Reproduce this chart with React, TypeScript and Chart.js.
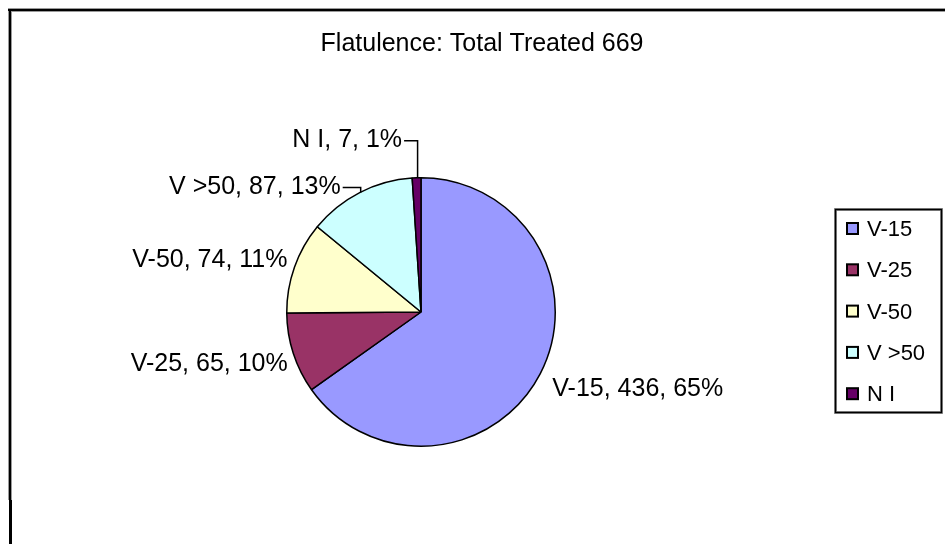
import React, { useEffect, useRef } from 'react';
import { Chart, registerables } from 'chart.js';

Chart.register(...registerables);

const titleText = 'Flatulence: Total Treated 669';
const categories = ['V-15', 'V-25', 'V-50', 'V >50', 'N I'];
const counts = [436, 65, 74, 87, 7];
const colors = ['#9999FF', '#993366', '#FFFFCC', '#CCFFFF', '#660066'];

const FONT = '"Liberation Sans", Arial, sans-serif';

// label placement relative to slice edge point (style only)
const labelPlacement = [
  { dx: 12, dy: 13, align: 'left', leader: false },
  { dx: -5.5, dy: 8.6, align: 'right', leader: false },
  { dx: -7, dy: -9, align: 'right', leader: false },
  { dx: -19, dy: -8, align: 'right', leader: true },
  { dx: -14.5, dy: -40, align: 'right', leader: true },
];

const framePlugin = {
  id: 'frame',
  beforeDraw(chart: any) {
    const ctx = chart.ctx;
    ctx.save();
    ctx.fillStyle = '#fff';
    ctx.fillRect(0, 0, chart.width, chart.height);
    // outer chart frame (top + left)
    ctx.fillStyle = '#9a9a9a';
    ctx.fillRect(8, 8, chart.width, 4);
    ctx.fillRect(8, 8, 4, 492);
    ctx.fillStyle = '#000';
    ctx.fillRect(8, 9, chart.width, 2);
    ctx.fillRect(9, 9, 2, 491);
    ctx.fillRect(9, 500, 3, chart.height - 500);
    // title
    ctx.fillStyle = '#000';
    ctx.font = `25px ${FONT}`;
    ctx.textAlign = 'center';
    ctx.textBaseline = 'alphabetic';
    ctx.fillText(titleText, 482, 51);
    ctx.restore();
  },
};

const labelsPlugin = {
  id: 'sliceLabels',
  afterDatasetsDraw(chart: any) {
    const ctx = chart.ctx;
    const meta = chart.getDatasetMeta(0);
    const data = chart.data.datasets[0].data as number[];
    const total = data.reduce((a, b) => a + b, 0);
    ctx.save();
    ctx.font = `25px ${FONT}`;
    ctx.fillStyle = '#000';
    ctx.strokeStyle = '#000';
    ctx.lineWidth = 1.5;
    ctx.textBaseline = 'alphabetic';
    meta.data.forEach((arc: any, i: number) => {
      const { x, y, startAngle, endAngle, outerRadius } = arc.getProps(
        ['x', 'y', 'startAngle', 'endAngle', 'outerRadius'],
        true
      );
      const mid = (startAngle + endAngle) / 2;
      const ex = x + Math.cos(mid) * outerRadius;
      const ey = y + Math.sin(mid) * outerRadius;
      const p = labelPlacement[i];
      const tx = ex + p.dx;
      const ty = ey + p.dy;
      const pct = Math.round((data[i] / total) * 100);
      const text = `${chart.data.labels[i]}, ${data[i]}, ${pct}%`;
      ctx.textAlign = p.align;
      ctx.fillText(text, tx, ty + 9);
      if (p.leader) {
        const w = ctx.measureText(text).width;
        const right = p.align === 'right' ? tx : tx + w;
        ctx.beginPath();
        ctx.moveTo(right + 2, ty + 3);
        ctx.lineTo(ex + 1, ty + 3);
        ctx.lineTo(ex + 1, ey);
        ctx.stroke();
      }
    });
    ctx.restore();
  },
};

const legendPlugin = {
  id: 'boxLegend',
  afterDraw(chart: any) {
    const ctx = chart.ctx;
    const labels = chart.data.labels as string[];
    const bg = chart.data.datasets[0].backgroundColor as string[];
    ctx.save();
    // legend frame
    ctx.strokeStyle = '#9a9a9a';
    ctx.lineWidth = 3;
    ctx.strokeRect(835.5, 209.5, 106, 203);
    ctx.strokeStyle = '#000';
    ctx.lineWidth = 1.5;
    ctx.strokeRect(835.5, 209.5, 106, 203);
    ctx.font = `22px ${FONT}`;
    ctx.textAlign = 'left';
    ctx.textBaseline = 'alphabetic';
    labels.forEach((lab, i) => {
      const cy = 228 + i * 41.3;
      ctx.fillStyle = bg[i];
      ctx.fillRect(847, cy - 5, 11, 11);
      ctx.strokeStyle = '#000';
      ctx.lineWidth = 2;
      ctx.strokeRect(847, cy - 5, 11, 11);
      ctx.fillStyle = '#000';
      ctx.fillText(lab, 867, cy + 8);
    });
    ctx.restore();
  },
};

export default function App() {
  const ref = useRef<HTMLCanvasElement | null>(null);
  useEffect(() => {
    if (!ref.current) return;
    const chart = new Chart(ref.current, {
      type: 'pie',
      data: {
        labels: categories,
        datasets: [
          {
            data: counts,
            backgroundColor: colors,
            borderColor: '#000',
            borderWidth: 1.5,
          },
        ],
      },
      options: {
        responsive: false,
        animation: false,
        devicePixelRatio: 1,
        layout: { padding: { left: 286, right: 389, top: 177, bottom: 97 } },
        plugins: {
          legend: { display: false },
          title: { display: false },
          tooltip: { enabled: false },
        },
      },
      plugins: [framePlugin, labelsPlugin, legendPlugin],
    });
    return () => chart.destroy();
  }, []);
  return (
    <div style={{ position: 'fixed', left: 0, top: 0, width: 945, height: 544 }}>
      <canvas ref={ref} width={945} height={544} style={{ width: 945, height: 544 }} />
    </div>
  );
}
